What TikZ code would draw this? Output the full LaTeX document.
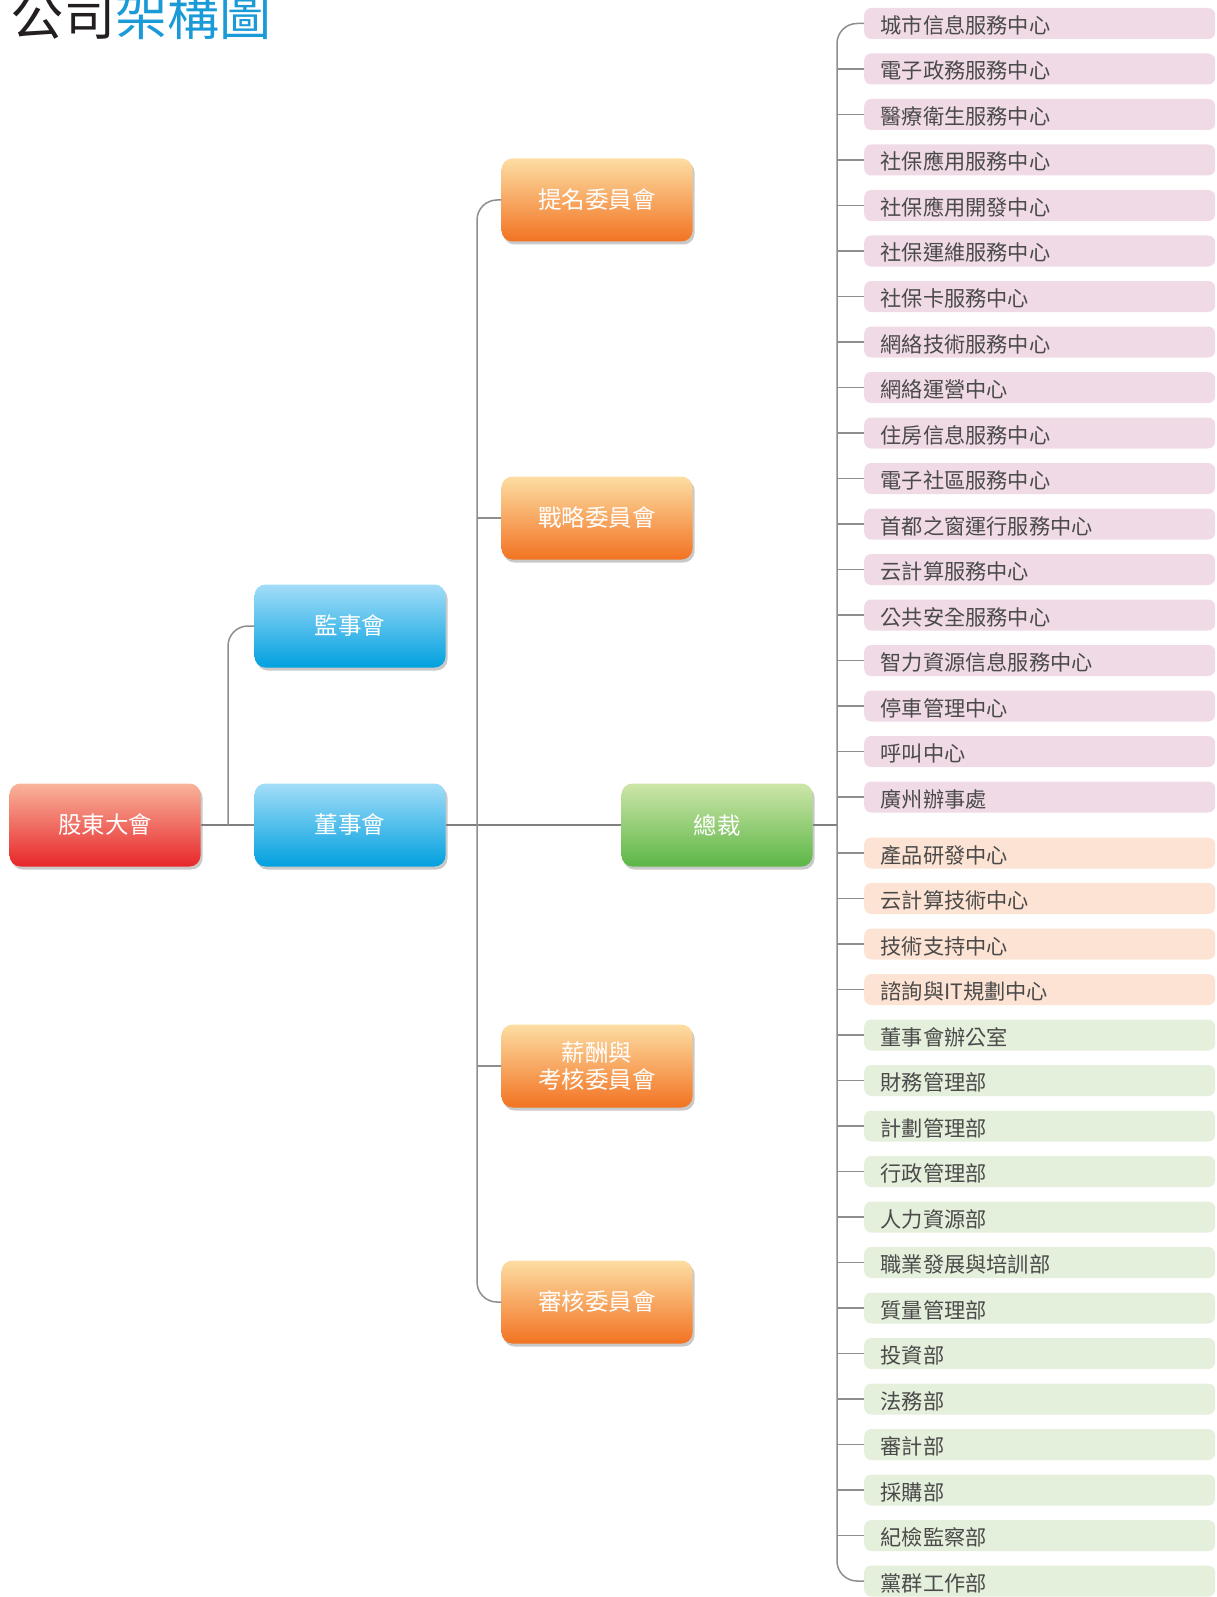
\documentclass[tikz,border=0pt]{standalone}
\usepackage{fontspec}
\setmainfont{Noto Sans CJK TC}
\usetikzlibrary{shadows}
\definecolor{titleblack}{HTML}{231F20}
\definecolor{titleblue}{HTML}{1A9BD7}
\definecolor{linegray}{HTML}{8E8E8E}
\definecolor{textgray}{HTML}{4A4A4A}
\definecolor{pinkfill}{HTML}{F0DAE6}
\definecolor{peachfill}{HTML}{FDE3D3}
\definecolor{greenfill}{HTML}{E5F0DC}
\definecolor{redT}{HTML}{F8B49B}
\definecolor{redM}{HTML}{F07050}
\definecolor{redB}{HTML}{E8262A}
\definecolor{blueT}{HTML}{A3DDF8}
\definecolor{blueM}{HTML}{00B9EE}
\definecolor{blueB}{HTML}{00A0DF}
\definecolor{oranT}{HTML}{FDDDA3}
\definecolor{oranM}{HTML}{F7A21E}
\definecolor{oranB}{HTML}{F27322}
\definecolor{grnT}{HTML}{CDE6A9}
\definecolor{grnM}{HTML}{8DC63F}
\definecolor{grnB}{HTML}{5CB646}
\tikzset{
  big/.style={rounded corners=11pt, minimum width=191pt, minimum height=83pt,
    inner sep=0pt, text=white, align=center,
    font=\fontsize{23.5}{27}\selectfont,
    drop shadow={shadow xshift=2pt, shadow yshift=-3pt, opacity=0.3, fill=black!70}},
  redbox/.style={big, top color=redT, middle color=redM, bottom color=redB},
  bluebox/.style={big, top color=blueT, middle color=blueM, bottom color=blueB},
  oranbox/.style={big, top color=oranT, middle color=oranM, bottom color=oranB},
  grnbox/.style={big, top color=grnT, middle color=grnM, bottom color=grnB},
  item/.style={anchor=west, rounded corners=7pt, minimum height=31pt,
    text width=318pt, inner xsep=16.5pt, inner ysep=0pt, align=left,
    text height=20pt, text depth=0pt,
    font=\fontsize{21.2}{24}\selectfont, text=textgray},
  mainline/.style={draw=linegray!90!black, line width=2pt},
  trunkline/.style={draw=linegray, line width=1.5pt, rounded corners=20pt},
  tickline/.style={draw=linegray, line width=1.3pt}
}
\begin{document}
\begin{tikzpicture}[x=1pt,y=-1pt]
\clip (0,0) rectangle (1217,1597);
\useasboundingbox (0,0) rectangle (1217,1597);

% title
\node[anchor=base west, inner sep=0pt, font=\fontsize{52}{60}\selectfont, text=titleblack]
  (title) at (11,36) {公司\textcolor{titleblue}{架構圖}};

% main boxes
\node[redbox]  (gd) at (105,825) {股東大會};
\node[bluebox] (js) at (350,626) {監事會};
\node[bluebox] (ds) at (350,825) {董事會};
\node[oranbox] (tm) at (597,200) {提名委員會};
\node[oranbox] (zl) at (597,518) {戰略委員會};
\node[oranbox] (xc) at (597,1066) {薪酬與\\考核委員會};
\node[oranbox] (sh) at (597,1302) {審核委員會};
\node[grnbox]  (zc) at (717,825) {總裁};

\coordinate (j1) at (228,825);
\coordinate (j2) at (477,825);
\coordinate (j3) at (837,825);

% right-hand items
\foreach \t [count=\i] in {城市信息服務中心,電子政務服務中心,醫療衛生服務中心,社保應用服務中心,社保應用開發中心,社保運維服務中心,社保卡服務中心,網絡技術服務中心,網絡運營中心,住房信息服務中心,電子社區服務中心,首都之窗運行服務中心,云計算服務中心,公共安全服務中心,智力資源信息服務中心,停車管理中心,呼叫中心,廣州辦事處}
  \node[item, fill=pinkfill] (r\i) at (864,{23.5+45.5*(\i-1)}) {\t};
\foreach \t [count=\i from 19] in {產品研發中心,云計算技術中心,技術支持中心,諮詢與IT規劃中心}
  \node[item, fill=peachfill] (r\i) at (864,{853+45.5*(\i-19)}) {\t};
\foreach \t [count=\i from 23] in {董事會辦公室,財務管理部,計劃管理部,行政管理部,人力資源部,職業發展與培訓部,質量管理部,投資部,法務部,審計部,採購部,紀檢監察部,黨群工作部}
  \node[item, fill=greenfill] (r\i) at (864,{1035+45.5*(\i-23)}) {\t};

% connectors
\draw[mainline] (gd.east) -- (ds.west);
\draw[trunkline] (js.west) -| (j1);
\draw[mainline] (ds.east) -- (zc.west);
\draw[trunkline] (tm.west) -| (j2) |- (sh.west);
\draw[trunkline] (zl.west) -- (zl.west -| j2);
\draw[trunkline] (xc.west) -- (xc.west -| j2);
\draw[mainline] (zc.east) -- (j3);
\draw[trunkline] (r1.west) -| (j3) |- (r35.west);
\foreach \i in {2,...,34}
  \draw[tickline] (r\i.west) -- (r\i.west -| j3);
\end{tikzpicture}
\end{document}
